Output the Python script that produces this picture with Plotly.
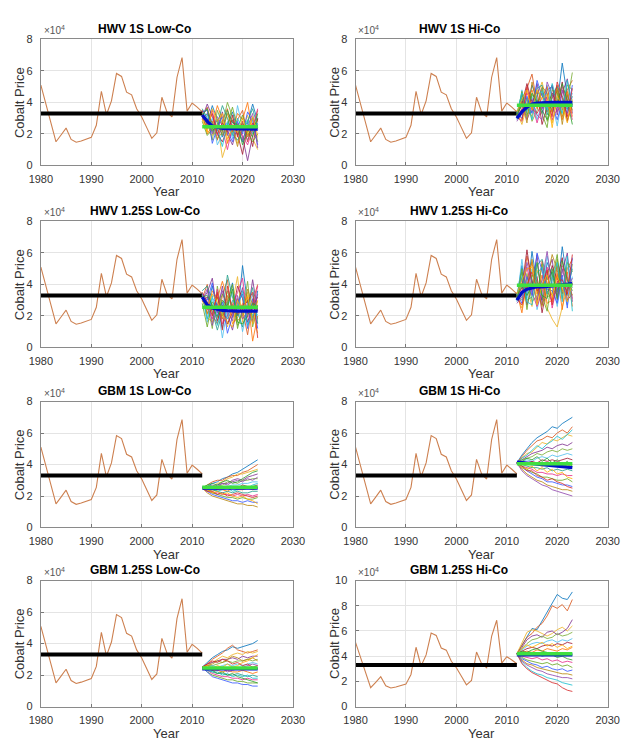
import plotly.graph_objects as go

# ---------------- data (prices in units of 1e4) ----------------
hist_years = list(range(1980, 2013))
hist_price = [5.1, 3.9, 2.65, 1.5, 1.93, 2.37, 1.65, 1.47, 1.55, 1.65, 1.78,
              2.55, 4.71, 3.22, 4.1, 5.84, 5.65, 4.65, 4.48, 3.6, 3.08,
              2.4, 1.72, 2.07, 4.33, 3.4, 3.08, 5.6, 6.85, 3.45, 3.96, 3.7, 3.4]
hist_mean = 3.3
sim_years = list(range(2012, 2024))

titles = ["HWV 1S Low-Co", "HWV 1S Hi-Co", "HWV 1.25S Low-Co", "HWV 1.25S Hi-Co",
          "GBM 1S Low-Co", "GBM 1S Hi-Co", "GBM 1.25S Low-Co", "GBM 1.25S Hi-Co"]
y_max = [8, 8, 8, 8, 8, 8, 8, 10]

paths_hwv1_low = [
    [3.3,2.6,3.8,2.9,1.8,2.5,3.4,2.2,1.5,2.7,3.9,2.8],
    [3.1,3.7,2.4,1.6,2.8,3.6,2.1,2.9,3.5,1.9,2.4,3.5],
    [3.4,2.2,1.9,2.7,0.5,1.6,2.6,1.4,2.2,3.2,1.7,1.0],
    [3.0,3.9,3.1,2.2,3.4,2.0,1.3,2.5,1.8,0.3,1.9,2.6],
    [3.2,2.9,1.6,3.5,2.6,4.0,3.1,1.9,2.7,2.2,3.0,1.5],
    [3.5,2.4,3.0,1.3,2.0,2.8,1.7,3.8,2.4,1.6,2.6,2.2],
    [2.9,3.3,2.7,2.0,1.5,2.3,2.9,2.0,0.7,2.5,1.2,3.0],
    [3.3,2.0,2.5,3.8,2.9,1.4,2.2,3.3,2.9,4.0,2.1,1.8],
    [3.6,3.0,2.1,2.6,3.8,3.0,2.0,1.6,2.2,2.8,3.6,2.4],
    [3.2,2.7,3.5,1.9,2.3,1.0,2.5,2.7,1.9,1.3,2.3,3.6],
    [2.8,1.9,2.3,2.9,1.9,2.6,3.7,2.4,3.2,2.1,1.5,2.0],
    [3.4,3.5,1.4,2.4,3.1,2.2,1.5,2.8,2.0,3.4,2.8,1.3],
    [3.1,2.3,2.8,1.7,2.1,3.3,2.4,1.2,2.6,1.8,2.4,2.9],
    [3.0,2.8,2.0,3.1,2.5,1.9,2.8,2.3,1.6,2.4,3.3,1.1],
    [3.3,3.2,2.6,2.3,1.2,2.7,1.9,3.0,2.3,2.9,2.0,2.7],
    [3.5,2.5,3.3,2.0,2.7,2.1,3.2,1.8,2.8,1.5,2.7,2.3],
    [3.2,3.6,2.2,2.5,2.2,3.5,2.7,2.6,1.3,2.3,1.8,3.3],
    [2.9,2.1,3.6,2.8,3.3,1.7,2.3,2.1,3.0,2.0,3.1,1.9],
]
paths_hwv1_hi = [
    [3.2,4.5,3.6,5.1,4.2,3.3,4.8,5.0,3.9,6.5,4.4,3.7],
    [3.0,3.6,4.9,5.8,3.9,4.6,3.4,4.2,5.1,3.5,4.8,5.4],
    [3.4,2.6,3.8,3.1,4.4,5.3,3.9,2.7,4.5,3.9,2.9,4.1],
    [3.1,4.1,2.9,3.7,5.2,3.6,4.4,5.1,3.2,4.6,5.5,3.3],
    [3.3,3.2,4.3,2.8,3.5,4.9,2.8,3.6,4.8,3.1,4.0,5.9],
    [2.9,4.8,3.4,4.4,2.9,3.9,5.1,4.0,2.5,4.2,3.5,4.6],
    [3.2,3.9,5.2,4.0,4.7,2.6,3.7,4.6,3.8,5.3,2.8,3.9],
    [3.5,2.9,4.0,4.8,3.6,4.3,5.0,3.3,4.2,2.9,4.7,3.1],
    [3.0,4.3,3.3,3.4,4.9,5.1,3.2,4.4,5.0,4.4,3.6,4.4],
    [3.3,3.5,4.6,3.9,2.7,3.8,4.3,2.9,3.6,5.0,4.2,2.9],
    [3.1,4.7,3.1,4.5,4.1,3.2,2.4,4.8,4.6,3.7,5.1,4.8],
    [3.4,3.0,4.4,3.3,5.4,4.4,3.9,3.8,2.9,4.0,3.3,5.1],
    [3.2,4.0,2.7,5.3,3.8,5.0,4.6,3.4,4.9,2.6,4.5,3.5],
    [2.8,3.4,3.9,4.2,3.2,2.9,5.3,4.5,3.4,4.8,3.9,4.3],
    [3.3,4.6,4.1,2.9,4.5,4.7,3.5,5.2,4.1,3.3,5.4,3.8],
    [3.1,2.8,5.0,3.6,3.3,4.0,4.1,3.1,5.3,4.3,3.1,4.9],
    [3.2,3.8,3.5,4.6,4.0,3.5,2.9,4.1,3.7,5.2,4.1,2.6],
    [3.4,4.2,4.8,3.5,4.8,4.2,4.5,2.4,4.4,3.8,2.7,4.2],
]
paths_hwv125_low = [
    [3.3,2.4,3.9,2.6,1.2,2.9,4.1,2.0,5.2,2.8,1.7,3.6],
    [3.1,4.0,2.1,1.5,3.3,4.3,1.9,3.1,2.4,0.8,2.9,4.0],
    [3.4,1.9,1.6,3.4,2.4,1.3,2.8,4.5,1.6,3.5,2.2,0.9],
    [3.0,3.5,4.4,2.2,3.9,2.1,1.1,2.6,3.8,2.1,4.3,2.3],
    [3.2,2.8,1.2,3.9,2.0,3.6,2.4,1.4,2.2,4.2,1.3,2.7],
    [3.5,1.6,3.1,2.8,0.6,2.5,3.5,2.9,1.0,2.5,3.4,1.8],
    [2.9,3.2,2.6,1.7,2.7,1.5,2.2,3.9,3.1,1.6,2.6,3.2],
    [3.3,2.1,3.6,3.1,4.2,3.1,1.5,1.9,2.8,3.2,0.4,2.0],
    [3.6,3.9,2.3,1.1,2.2,4.6,3.2,2.3,1.3,2.6,3.8,1.5],
    [3.2,2.5,1.8,3.7,1.5,2.0,2.6,3.5,4.4,1.9,2.4,3.9],
    [2.8,1.3,2.9,2.4,3.4,2.7,4.0,1.2,2.5,3.0,1.9,2.5],
    [3.4,3.0,4.1,2.0,2.9,0.9,2.0,2.8,3.4,1.2,3.1,1.2],
    [3.1,2.2,2.4,3.2,1.8,3.3,2.7,1.7,2.0,3.7,2.7,2.9],
    [3.0,3.7,1.4,2.7,3.6,2.3,1.7,3.3,1.8,2.3,1.6,3.4],
    [3.3,1.8,3.3,1.4,2.5,1.8,3.0,2.5,3.6,1.4,2.1,2.1],
    [3.5,2.9,2.0,3.5,1.1,3.9,2.3,2.1,2.7,2.9,3.5,0.6],
    [3.2,3.3,2.7,1.9,3.0,2.6,3.7,1.6,1.5,2.0,2.8,2.6],
    [2.9,2.6,3.4,2.9,2.1,1.6,1.3,3.0,2.2,3.3,1.5,3.0],
]
paths_hwv125_hi = [
    [3.2,5.2,3.4,6.1,4.0,3.0,5.4,4.6,3.5,6.4,4.2,3.8],
    [3.0,3.4,5.8,4.4,2.8,5.5,3.6,2.9,5.2,3.4,5.0,5.6],
    [3.4,2.5,3.9,2.6,4.9,4.1,2.5,1.8,1.3,2.6,3.8,4.2],
    [3.1,4.4,2.7,3.8,5.9,2.7,4.7,5.6,3.0,4.8,6.0,2.9],
    [3.3,3.0,4.7,2.9,3.3,5.3,3.2,3.4,5.6,3.9,3.3,5.3],
    [2.9,5.6,3.1,5.0,2.4,3.8,5.8,4.1,2.6,4.4,2.7,4.5],
    [3.2,3.8,6.2,4.0,4.5,2.2,3.9,5.2,4.3,5.7,3.0,3.4],
    [3.5,2.2,4.3,5.4,3.4,4.6,2.8,3.0,4.7,2.4,4.8,2.6],
    [3.0,4.8,3.0,3.2,5.2,5.6,4.3,4.8,3.7,4.0,3.6,5.0],
    [3.3,3.6,5.1,3.5,2.6,3.5,5.1,2.5,4.0,5.2,4.5,3.1],
    [3.1,5.0,2.4,4.6,4.2,3.2,2.3,4.4,5.9,3.1,5.4,4.8],
    [3.4,2.8,4.5,3.3,6.0,4.8,3.7,3.6,2.8,4.6,2.5,5.7],
    [3.2,4.1,3.6,5.6,3.8,2.6,4.4,5.9,4.9,3.6,4.1,3.3],
    [2.8,3.2,5.4,4.1,3.0,4.3,6.1,3.8,3.3,5.0,3.7,4.4],
    [3.3,4.5,2.9,2.7,4.7,5.1,3.4,4.3,5.4,2.9,5.8,2.3],
    [3.1,2.7,4.0,4.8,3.6,3.9,4.9,2.7,4.2,4.3,3.4,5.9],
    [3.2,3.9,3.3,3.9,5.4,3.3,3.1,5.0,3.1,5.5,4.3,3.6],
    [3.4,4.3,5.0,5.1,2.7,4.0,4.6,3.2,4.5,3.8,2.9,4.1],
]
paths_gbm1_low = [
    [2.5,2.6,2.8,2.9,3.1,3.2,3.4,3.5,3.7,3.9,4.1,4.3],
    [2.5,2.7,2.9,3.0,3.0,3.2,3.3,3.3,3.5,3.6,3.8,4.0],
    [2.5,2.4,2.6,2.8,2.9,3.1,3.2,3.4,3.4,3.5,3.6,3.7],
    [2.5,2.6,2.5,2.7,2.8,2.8,3.0,3.1,3.0,3.2,3.3,3.4],
    [2.5,2.5,2.6,2.6,2.7,2.9,2.9,2.8,3.0,3.0,3.1,3.1],
    [2.5,2.3,2.4,2.5,2.5,2.6,2.7,2.7,2.8,2.8,2.9,2.9],
    [2.5,2.6,2.5,2.4,2.6,2.5,2.6,2.5,2.7,2.6,2.6,2.7],
    [2.5,2.4,2.3,2.4,2.4,2.3,2.5,2.4,2.4,2.5,2.4,2.5],
    [2.5,2.4,2.4,2.3,2.2,2.3,2.2,2.3,2.2,2.2,2.3,2.3],
    [2.5,2.3,2.2,2.2,2.1,2.1,2.0,2.1,2.0,2.1,2.0,2.1],
    [2.5,2.4,2.2,2.1,2.0,1.9,1.9,1.8,1.9,1.8,1.8,1.9],
    [2.5,2.3,2.1,2.0,1.9,1.8,1.7,1.7,1.6,1.7,1.6,1.6],
    [2.5,2.2,2.0,1.9,1.8,1.7,1.6,1.5,1.5,1.4,1.4,1.3],
    [2.5,2.6,2.7,2.6,2.8,2.7,2.9,3.0,2.9,3.1,3.0,3.2],
    [2.5,2.4,2.5,2.3,2.4,2.5,2.3,2.4,2.6,2.5,2.7,2.8],
    [2.5,2.3,2.3,2.1,2.2,2.0,2.1,2.2,2.1,2.0,1.9,2.0],
    [2.5,2.7,2.8,2.7,2.9,3.0,2.8,2.9,3.1,3.3,3.5,3.6],
    [2.5,2.4,2.2,2.3,2.1,2.2,2.0,1.9,2.0,1.8,1.7,1.5],
]
paths_gbm1_hi = [
    [4.1,4.6,5.0,5.4,5.7,5.9,6.1,6.4,6.3,6.6,6.8,7.0],
    [4.1,4.5,4.9,5.2,5.5,5.6,5.8,5.7,6.0,6.2,6.0,6.4],
    [4.1,4.4,4.7,4.8,5.1,5.4,5.3,5.6,5.5,5.7,5.9,5.8],
    [4.1,4.3,4.5,4.7,4.8,4.9,5.1,5.0,5.2,5.3,5.2,5.4],
    [4.1,4.3,4.4,4.5,4.7,4.6,4.8,4.9,4.8,5.0,4.9,5.0],
    [4.1,4.2,4.3,4.2,4.4,4.5,4.4,4.6,4.5,4.6,4.7,4.6],
    [4.1,4.2,4.1,4.2,4.1,4.3,4.2,4.3,4.2,4.3,4.4,4.3],
    [4.1,4.0,4.1,4.0,4.0,3.9,4.0,4.1,3.9,4.0,3.9,4.0],
    [4.1,4.0,3.9,3.8,3.8,3.7,3.8,3.6,3.7,3.6,3.7,3.6],
    [4.1,3.9,3.8,3.7,3.5,3.5,3.4,3.4,3.3,3.4,3.3,3.3],
    [4.1,3.9,3.7,3.5,3.4,3.2,3.2,3.1,3.0,3.0,3.1,2.9],
    [4.1,3.8,3.6,3.4,3.2,3.1,2.9,2.9,2.8,2.7,2.7,2.6],
    [4.1,3.7,3.4,3.2,3.0,2.9,2.7,2.6,2.5,2.4,2.4,2.3],
    [4.1,3.6,3.3,3.1,2.9,2.7,2.6,2.4,2.3,2.2,2.1,2.0],
    [4.1,4.4,4.6,4.9,5.2,5.0,5.3,5.5,5.8,5.6,5.9,6.2],
    [4.1,3.9,3.6,3.6,3.3,3.2,3.0,3.1,2.9,2.8,2.6,2.5],
    [4.1,4.2,4.4,4.3,4.5,4.2,4.4,4.1,4.3,4.0,4.2,3.9],
    [4.1,3.8,3.7,3.9,3.6,3.8,3.5,3.7,3.4,3.5,3.2,3.1],
]
paths_gbm125_low = [
    [2.5,2.8,3.1,3.3,3.5,3.6,3.8,3.7,3.8,3.9,4.0,4.2],
    [2.5,2.7,3.0,3.2,3.4,3.7,3.9,3.6,3.5,3.4,3.5,3.6],
    [2.5,2.6,2.8,3.0,3.2,3.1,3.3,3.4,3.3,3.5,3.4,3.5],
    [2.5,2.7,2.8,2.9,3.0,3.0,3.1,3.0,3.2,3.1,3.2,3.2],
    [2.5,2.6,2.6,2.7,2.8,2.9,2.8,2.9,2.9,3.0,2.9,3.0],
    [2.5,2.5,2.6,2.5,2.6,2.7,2.6,2.7,2.6,2.7,2.8,2.7],
    [2.5,2.4,2.5,2.4,2.5,2.4,2.5,2.4,2.5,2.4,2.5,2.4],
    [2.5,2.4,2.3,2.3,2.2,2.3,2.2,2.2,2.3,2.2,2.1,2.2],
    [2.5,2.3,2.2,2.1,2.1,2.0,2.0,2.1,2.0,1.9,2.0,1.9],
    [2.5,2.3,2.1,2.0,1.9,1.9,1.8,1.8,1.7,1.8,1.7,1.7],
    [2.5,2.2,2.0,1.9,1.8,1.7,1.7,1.6,1.6,1.5,1.5,1.5],
    [2.5,2.2,1.9,1.8,1.7,1.6,1.5,1.5,1.4,1.4,1.3,1.3],
    [2.5,2.6,2.7,2.9,2.8,3.0,3.2,3.1,2.9,3.0,3.1,2.9],
    [2.5,2.4,2.5,2.3,2.4,2.2,2.3,2.4,2.5,2.6,2.7,2.6],
    [2.5,2.3,2.2,2.2,2.0,2.1,1.9,2.0,1.9,2.0,1.8,1.8],
    [2.5,2.7,2.9,2.8,3.0,2.9,2.7,2.8,2.6,2.7,2.5,2.6],
    [2.5,2.4,2.3,2.1,2.2,2.0,2.1,1.9,1.8,1.7,1.6,1.5],
    [2.5,2.6,2.4,2.6,2.5,2.7,2.5,2.6,2.8,2.9,3.1,3.3],
]
paths_gbm125_hi = [
    [4.2,4.9,5.6,6.2,6.1,6.8,7.5,8.2,8.9,8.6,8.5,9.1],
    [4.2,4.8,5.5,5.8,6.3,6.6,7.2,8.0,7.8,8.1,7.6,8.5],
    [4.2,5.0,5.9,6.1,6.0,5.8,5.6,5.8,6.1,6.3,6.0,6.4],
    [4.2,4.7,5.3,5.6,5.7,5.5,5.9,6.0,5.7,5.9,6.2,6.9],
    [4.2,4.6,5.0,5.3,5.4,5.6,5.4,5.5,5.8,5.6,5.7,5.9],
    [4.2,4.5,4.8,5.0,5.1,5.0,5.2,5.3,5.1,5.3,5.2,5.4],
    [4.2,4.4,4.6,4.7,4.6,4.8,4.9,4.8,5.0,4.9,5.1,5.0],
    [4.2,4.3,4.4,4.3,4.5,4.4,4.6,4.5,4.4,4.6,4.5,4.7],
    [4.2,4.1,4.2,4.1,4.2,4.0,4.1,4.2,4.0,4.1,4.2,4.1],
    [4.2,4.0,3.9,3.8,3.9,3.7,3.8,3.6,3.7,3.5,3.6,3.5],
    [4.2,3.9,3.7,3.6,3.5,3.4,3.5,3.3,3.4,3.2,3.3,3.1],
    [4.2,3.8,3.6,3.4,3.3,3.1,3.2,3.0,2.9,3.0,2.8,2.9],
    [4.2,3.7,3.4,3.3,3.1,3.0,2.9,2.8,2.7,2.6,2.6,2.5],
    [4.2,3.6,3.3,3.1,2.9,2.8,2.6,2.5,2.4,2.3,2.3,2.2],
    [4.2,3.5,3.1,2.8,2.6,2.5,2.3,2.2,2.1,1.9,1.8,1.7],
    [4.2,3.4,3.0,2.7,2.5,2.3,2.1,1.9,1.8,1.5,1.3,1.2],
    [4.2,4.4,4.3,4.5,4.6,4.4,4.3,4.1,3.9,4.0,3.8,3.7],
    [4.2,4.6,4.9,4.7,4.9,5.1,4.8,5.0,4.7,4.9,4.6,4.8],
]
all_paths = [paths_hwv1_low, paths_hwv1_hi, paths_hwv125_low, paths_hwv125_hi,
             paths_gbm1_low, paths_gbm1_hi, paths_gbm125_low, paths_gbm125_hi]

blue_means = [
    [3.2,2.8,2.5,2.4,2.35,2.33,2.32,2.32,2.32,2.3,2.3,2.3],
    [3.0,3.4,3.7,3.9,3.95,3.98,3.98,4.0,4.0,4.0,4.0,4.0],
    [3.2,2.7,2.5,2.4,2.35,2.33,2.3,2.3,2.3,2.3,2.3,2.3],
    [3.0,3.5,3.7,3.8,3.85,3.85,3.85,3.9,3.95,4.0,4.05,4.05],
    [2.5,2.5,2.5,2.5,2.5,2.5,2.5,2.5,2.5,2.5,2.5,2.5],
    [4.15,4.12,4.1,4.05,4.0,3.98,3.95,3.92,3.9,3.88,3.85,3.8],
    [2.4,2.4,2.4,2.4,2.4,2.4,2.4,2.4,2.4,2.4,2.4,2.4],
    [4.1,4.1,4.1,4.1,4.1,4.1,4.1,4.1,4.1,4.1,4.1,4.1],
]
green_levels = [2.45, 3.82, 2.55, 3.95, 2.55, 4.05, 2.45, 4.2]

# ---------------- styling ----------------
W, H = 636, 747
path_colors = ['#0072BD', '#D95319', '#EDB120', '#7E2F8E', '#77AC30', '#4DBEEE',
               '#A2142F', '#FF6F00', '#1F9E89', '#E7298A', '#66A61E', '#3355FF',
               '#B8860B', '#8E44AD', '#17BECF', '#D62728', '#2CA02C', '#FFB000']
FONT = "Liberation Sans, Arial, sans-serif"

# plot boxes in pixels: (left, right, top, bottom)
col_x = [(30, 292), (357, 619)]
row_y = [(34, 162), (219, 347), (402, 530), (584, 712)]

def px_x(p):
    return p / W

def px_y(p):
    return 1 - p / H

fig = go.Figure()
annotations = []
layout_axes = {}

for i in range(8):
    r, c = divmod(i, 2)
    n = i + 1
    xa = 'x' if n == 1 else f'x{n}'
    ya = 'y' if n == 1 else f'y{n}'
    xl, xr = col_x[c]
    yt, yb = row_y[r]

    fig.add_trace(go.Scatter(x=hist_years, y=hist_price, mode='lines',
                             line=dict(color='#CD8050', width=1.1),
                             xaxis=xa, yaxis=ya, showlegend=False))
    fig.add_trace(go.Scatter(x=[hist_years[0], hist_years[-1]], y=[hist_mean, hist_mean],
                             mode='lines', line=dict(color='black', width=4),
                             xaxis=xa, yaxis=ya, showlegend=False))
    for k, p in enumerate(all_paths[i]):
        fig.add_trace(go.Scatter(x=sim_years, y=p, mode='lines',
                                 line=dict(color=path_colors[k % len(path_colors)], width=0.9),
                                 opacity=0.9, xaxis=xa, yaxis=ya, showlegend=False))
    fig.add_trace(go.Scatter(x=sim_years, y=blue_means[i], mode='lines',
                             line=dict(color='#0010C8', width=3.2),
                             xaxis=xa, yaxis=ya, showlegend=False))
    fig.add_trace(go.Scatter(x=[sim_years[0], sim_years[-1]], y=[green_levels[i]] * 2,
                             mode='lines', line=dict(color='#3FE03F', width=3.5),
                             xaxis=xa, yaxis=ya, showlegend=False))

    key = '' if n == 1 else str(n)
    layout_axes['xaxis' + key] = dict(
        domain=[px_x(xl), px_x(xr)], anchor=ya, range=[1980, 2030],
        tickvals=[1980, 1990, 2000, 2010, 2020, 2030], ticks='inside', ticklen=3,
        tickcolor='#777', showline=True, mirror=True, linecolor='#8a8a8a', linewidth=1,
        showgrid=True, gridcolor='#e4e4e4', zeroline=False, ticklabelstandoff=3,
        tickfont=dict(family=FONT, size=11, color='#333'))
    layout_axes['yaxis' + key] = dict(
        domain=[px_y(yb), px_y(yt)], anchor=xa, range=[0, y_max[i]], dtick=2,
        ticks='inside', ticklen=3, tickcolor='#777', showline=True, mirror=True,
        linecolor='#8a8a8a', linewidth=1, showgrid=True, gridcolor='#e4e4e4',
        zeroline=False, ticklabelstandoff=5,
        tickfont=dict(family=FONT, size=11, color='#333'))

    cx = (xl + xr) / 2
    cy = (yt + yb) / 2
    annotations.append(dict(text=f"<b>{titles[i]}</b>", x=px_x(cx - 23), y=px_y(yt - 11),
                            xref='paper', yref='paper', showarrow=False,
                            xanchor='center', yanchor='middle',
                            font=dict(family=FONT, size=12, color='black')))
    annotations.append(dict(text="×10<sup>4</sup>", x=px_x(xl + 1), y=px_y(yt - 1),
                            xref='paper', yref='paper', showarrow=False,
                            xanchor='left', yanchor='bottom',
                            font=dict(family=FONT, size=10, color='#555')))
    annotations.append(dict(text="Cobalt Price", x=px_x(xl - 22), y=px_y(cy),
                            xref='paper', yref='paper', showarrow=False, textangle=-90,
                            xanchor='center', yanchor='middle',
                            font=dict(family=FONT, size=13, color='#333')))
    annotations.append(dict(text="Year", x=px_x(cx), y=px_y(yb + 27),
                            xref='paper', yref='paper', showarrow=False,
                            xanchor='center', yanchor='middle',
                            font=dict(family=FONT, size=13, color='#333')))

fig.update_layout(width=W, height=H, margin=dict(l=0, r=0, t=0, b=0),
                  paper_bgcolor='white', plot_bgcolor='white',
                  showlegend=False, annotations=annotations, **layout_axes)

fig.write_html("out.html")
